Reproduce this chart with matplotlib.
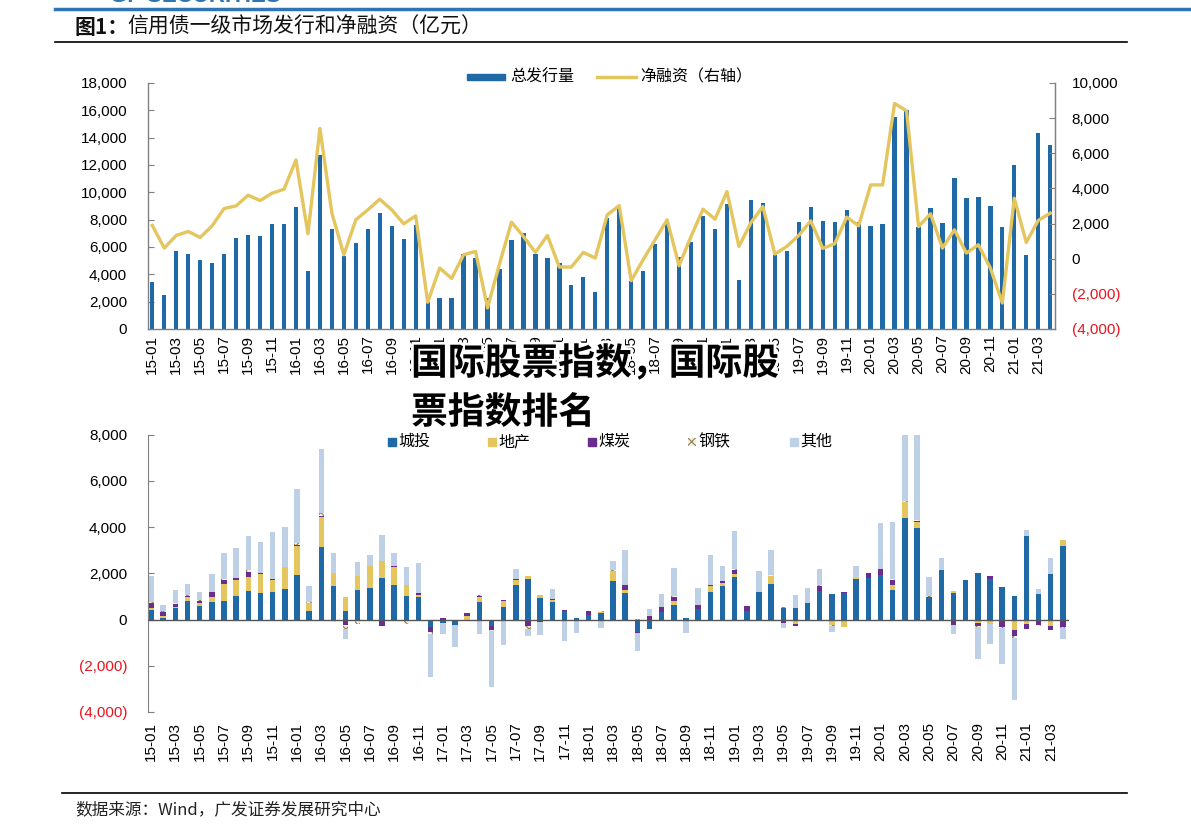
import matplotlib
matplotlib.use("Agg")
import matplotlib.pyplot as plt
import matplotlib.patheffects as pe
from matplotlib.patches import Rectangle
from matplotlib.lines import Line2D
import numpy as np

plt.rcParams['font.family'] = ['Liberation Sans', 'Noto Sans CJK SC', 'DejaVu Sans']
plt.rcParams['hatch.linewidth'] = 0.8
CJK = ['Noto Sans CJK SC', 'DejaVu Sans']

# ---------------- data ----------------
months = [f"{y:02d}-{m:02d}" for y in range(15, 22) for m in range(1, 13)][:76]

total_issuance = [3445, 2475, 5700, 5460, 5020, 4850, 5510, 6670, 6910, 6790, 7710, 7690,
                  8900, 4220, 12760, 7350, 5340, 6280, 7330, 8520, 7570, 6600, 7640, 1950,
                  2280, 2280, 5460, 5170, 2300, 4370, 6480, 6990, 5460, 5170, 4850, 3250,
                  3785, 2740, 8150, 8855, 3520, 4220, 6190, 7760, 5290, 6380, 8270, 7330,
                  9150, 3615, 9460, 9220, 5390, 5700, 7840, 8900, 7910, 7860, 8690, 7840,
                  7540, 7670, 15480, 16010, 7470, 8880, 7790, 11060, 9610, 9660, 9025, 7470,
                  12010, 5410, 14360, 13440]

net_financing = [1892, 605, 1324, 1551, 1211, 1873, 2857, 3008, 3614, 3311, 3727, 3954,
                 5620, 1419, 7417, 2592, 227, 2214, 2781, 3387, 2781, 1987, 2441, -2478,
                 -530, -1120, 227, 416, -2800, -300, 2080, 1268, 360, 1324, -473, -473,
                 360, 38, 2497, 3027, -1249, -57, 1078, 2214, -397, 1268, 2819, 2251,
                 3822, 700, 2050, 2970, 265, 700, 1330, 2157, 590, 850, 2365, 1873,
                 4200, 4200, 8836, 8419, 1835, 2554, 605, 1646, 322, 795, -530, -2516,
                 3443, 927, 2176, 2592]

chengtou = [400, 60, 505, 810, 590, 750, 795, 1025, 1215, 1155, 1200, 1330,
            1935, 375, 3150, 1460, 360, 1270, 1360, 1805, 1490, 1010, 970, -320,
            -170, -245, -40, 765, -290, 550, 1490, 1750, 925, 750, 360, 80,
            215, 290, 1675, 1155, -550, -420, 330, 635, 70, 460, 1185, 1460,
            1850, 375, 1200, 1530, 505, 505, 710, 1240, 1100, 1130, 1765, 1820,
            1920, 1270, 4390, 3960, 980, 2125, 1170, 1720, 1995, 1765, 1400, 1010,
            3610, 1100, 1965, 3180]
dichan = [120, 80, 30, 170, 130, 230, 735, 680, 635, 810, 505, 955,
          1240, 345, 1270, 535, 620, 620, 955, 720, 795, 475, 100, 0,
          0, 0, 140, 220, 0, 245, 215, 145, 130, 115, 0, 0,
          0, 40, 420, 115, 0, 0, 0, 160, 0, 0, 275, 130,
          115, 0, 0, 360, 0, -200, 0, 0, -245, -320, 30, 0,
          0, 215, 710, 275, 0, 0, 70, 0, -130, -200, 0, -435,
          -200, 0, -260, 260]
meitan = [200, 190, 145, 40, 90, 215, 200, 100, 215, 30, 40, 0,
          70, 0, 70, 20, -215, -60, 0, -275, 40, -60, 70, -215,
          60, 0, 140, 40, -175, 60, 40, -275, -115, 40, 70, 0,
          145, 0, 0, 215, -40, 145, 215, 185, 0, 185, 30, 70,
          185, 200, 0, 0, -145, -70, 0, 230, 0, 60, 0, 200,
          275, 230, 0, 40, 0, 0, -245, 0, -145, 115, -320, -275,
          -215, -245, -200, -320]
gangtie = [40, 30, 20, 40, 20, -80, 40, -50, 60, 30, 10, 0,
           70, 40, 100, -100, -200, -120, 0, 0, 0, -120, 0, -70,
           0, 0, 0, 30, -20, -20, 0, -120, 0, 0, 0, 0,
           0, 20, 30, 10, 20, 0, 0, 20, 0, 0, 20, 0,
           30, 30, 0, 30, 20, 0, 0, 20, -30, -20, 10, -80,
           0, 30, 30, 30, 20, 20, 0, 0, -30, 0, -30, -100,
           0, -40, 0, -30]
qita = [1120, 290, 600, 470, 355, 770, 1090, 1295, 1487, 1340, 2015, 1715,
        2335, 700, 2795, 845, -430, 595, 460, 1130, 575, 785, 1300, -1880,
        -470, -940, 0, -635, -2420, -1070, 425, -320, -560, 425, -940, -560,
        0, -360, 390, 1510, -780, 330, 580, 1240, -560, 740, 1290, 665,
        1650, 0, 910, 1085, -230, 550, 635, 690, -250, 0, 510, 0,
        1980, 2470, 3700, 4114, 850, 515, -390, -30, -1400, -870, -1580, -2670,
        260, 215, 720, -480]

series_names = ['城投', '地产', '煤炭', '钢铁', '其他']
series_vals = [chengtou, dichan, meitan, gangtie, qita]

# ---------------- styles ----------------
BLUE = '#1F69A6'
YELLOW = '#E4C55E'
PURPLE = '#6B2C8F'
LIGHT = '#BDD0E6'
STEEL_EDGE = '#8E7E50'
GRAY = '#808080'
RED = '#E8141E'

W, H = 1191, 839
fig = plt.figure(figsize=(W / 100, H / 100), dpi=100)

def fx(px):
    return px / W

def fy(py):
    return 1 - py / H

def fmt(v):
    return f"({abs(v):,.0f})" if v < 0 else f"{v:,.0f}"

# ---------------- header ----------------
fig.add_artist(Line2D([fx(55), 1.0], [fy(9), fy(9)], color='#2E75B6', lw=2.5))
fig.text(fx(110), fy(-3), 'GF SECURITIES', color='#2E75B6', fontsize=16,
         fontweight='bold', va='center', ha='left', family=['Liberation Sans'])
fig.text(fx(75), fy(27), '图1：', fontsize=15, fontweight='bold',
         va='center', ha='left', family=CJK, color='#111111')
fig.text(fx(127), fy(27), '信用债一级市场发行和净融资（亿元）', fontsize=15,
         va='center', ha='left', family=CJK, color='#111111')
fig.add_artist(Line2D([fx(55), fx(1127)], [fy(42), fy(42)], color='black', lw=1.2))
fig.add_artist(Line2D([fx(62), fx(1127)], [fy(793), fy(793)], color='black', lw=1.2))
fig.text(fx(75), fy(810), '数据来源：Wind，广发证券发展研究中心', fontsize=12,
         va='center', ha='left', family=CJK, color='#222222')

# ---------------- top chart ----------------
n = len(months)
x = np.arange(n)
ax1 = fig.add_axes([fx(148), fy(329), fx(1055 - 148), (329 - 83) / H])
ax1.bar(x, total_issuance, width=0.36, color=BLUE, zorder=2)
ax1.set_xlim(-0.36, 75.4)
ax1.set_ylim(0, 18000)
yt = np.arange(0, 18001, 2000)
ax1.set_yticks(yt)
ax1.set_yticklabels([fmt(v) for v in yt])
ax1.set_xticks(x[::2])
ax1.set_xticklabels(months[::2], rotation=90, fontsize=11)
ax1.tick_params(axis='x', length=0, pad=4)
ax1.tick_params(axis='y', direction='in', length=4, color=GRAY, labelsize=11, pad=15)
ax1.spines['top'].set_visible(False)
for s in ['left', 'bottom', 'right']:
    ax1.spines[s].set_color(GRAY)
    ax1.spines[s].set_linewidth(1)

ax2 = ax1.twinx()
ax2.plot(x, net_financing, color=YELLOW, lw=2.4, zorder=3)
ax2.set_ylim(-4000, 10000)
yt2 = np.arange(-4000, 10001, 2000)
ax2.set_yticks(yt2)
ax2.set_yticklabels([fmt(v) for v in yt2])
for lab, v in zip(ax2.get_yticklabels(), yt2):
    if v < 0:
        lab.set_color(RED)
ax2.tick_params(axis='y', direction='in', length=4, color=GRAY, labelsize=11, pad=12)
for s in ['top', 'left', 'bottom']:
    ax2.spines[s].set_visible(False)
ax2.spines['right'].set_color(GRAY)

# top legend
fig.add_artist(Rectangle((fx(467), fy(80)), fx(38), 6 / H, color=BLUE))
fig.text(fx(510), fy(77), '总发行量', fontsize=11.5, va='center', ha='left', family=CJK)
fig.add_artist(Line2D([fx(597), fx(636)], [fy(77), fy(77)], color=YELLOW, lw=2.4))
fig.text(fx(640), fy(77), '净融资（右轴）', fontsize=11.5, va='center', ha='left', family=CJK)

# ---------------- bottom chart ----------------
ax3 = fig.add_axes([fx(148), fy(712), fx(1069 - 148), (712 - 434.7) / H])
styles = [dict(color=BLUE), dict(color=YELLOW), dict(color=PURPLE),
          dict(facecolor='#F4F0E4', edgecolor=STEEL_EDGE, hatch='xxxx', linewidth=0),
          dict(color=LIGHT)]
pos_bottom = np.zeros(n)
neg_bottom = np.zeros(n)
for vals, st in zip(series_vals, styles):
    v = np.array(vals, dtype=float)
    pv = np.where(v > 0, v, 0)
    nv = np.where(v < 0, v, 0)
    ax3.bar(x, pv, bottom=pos_bottom, width=0.45, zorder=2, **st)
    ax3.bar(x, nv, bottom=neg_bottom, width=0.45, zorder=2, **st)
    pos_bottom += pv
    neg_bottom += nv
ax3.axhline(0, color='#555555', lw=1, zorder=3)
ax3.set_xlim(-0.25, 75.5)
ax3.set_ylim(-4000, 8000)
yt3 = np.arange(-4000, 8001, 2000)
ax3.set_yticks(yt3)
ax3.set_yticklabels([fmt(v) for v in yt3])
for lab, v in zip(ax3.get_yticklabels(), yt3):
    if v < 0:
        lab.set_color(RED)
ax3.set_xticks(x[::2])
ax3.set_xticklabels(months[::2], rotation=90, fontsize=11)
ax3.tick_params(axis='x', length=0, pad=7)
ax3.tick_params(axis='y', direction='in', length=4, color=GRAY, labelsize=11, pad=15)
for s in ['top', 'right', 'bottom']:
    ax3.spines[s].set_visible(False)
ax3.spines['left'].set_color(GRAY)

# bottom legend
leg_x = [388, 488, 588, 688, 790]
for xx, name, st in zip(leg_x, series_names, styles):
    r = Rectangle((fx(xx), fy(445.5)), 8 / W, 8 / H, transform=fig.transFigure, **st)
    fig.add_artist(r)
    fig.text(fx(xx + 10), fy(441.5), name, fontsize=11.5, va='center', ha='left', family=CJK)

# ---------------- overlay text ----------------
wm_fx = [pe.withStroke(linewidth=4, foreground='white')]
fig.text(fx(411), fy(364), '国际股票指数，国际股', fontsize=26.5, fontweight='heavy',
         va='center', ha='left', family=CJK, color='black', path_effects=wm_fx)
fig.text(fx(411), fy(413), '票指数排名', fontsize=26.5, fontweight='heavy',
         va='center', ha='left', family=CJK, color='black', path_effects=wm_fx)

fig.savefig('out.png', dpi=100)
